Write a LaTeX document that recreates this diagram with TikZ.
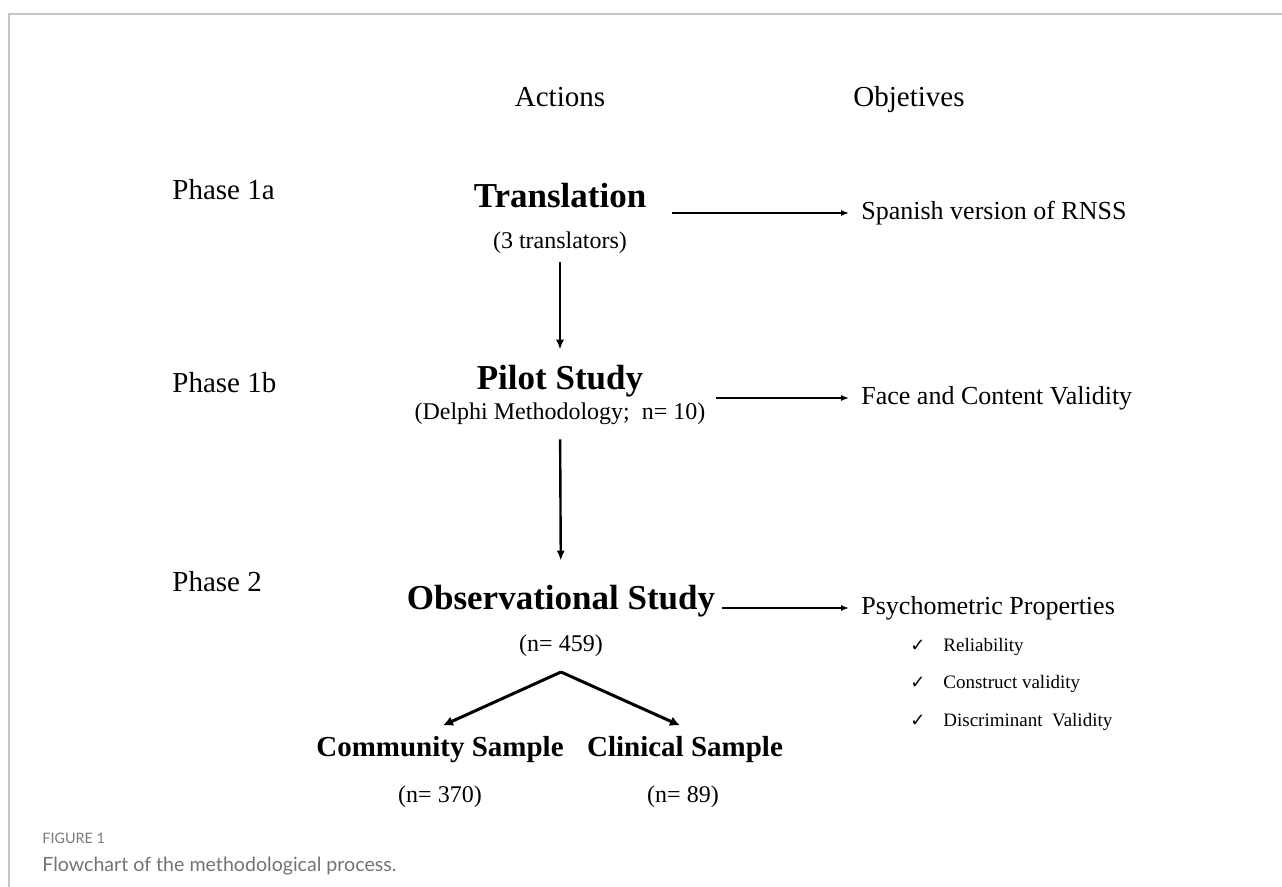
\documentclass[tikz,border=0pt]{standalone}
\usepackage{amssymb}
\usepackage{fontspec}
\setmainfont{Liberation Serif}
\newfontfamily\capfont{Lato}
\newfontfamily\symfont{DejaVu Sans}
\usetikzlibrary{arrows.meta}
\tikzset{head/.style = {font = \fontsize{14.5}{17}\selectfont, inner sep = 0, anchor = base}}
\tikzset{phase/.style = {font = \fontsize{14.5}{17}\selectfont, inner sep = 0, anchor = west}}
\tikzset{title/.style = {font = \fontsize{17.5}{20}\selectfont\bfseries, inner sep = 0}}
\tikzset{sub/.style = {font = \fontsize{12}{14}\selectfont, inner sep = 0}}
\tikzset{sample/.style = {font = \fontsize{14.5}{17}\selectfont\bfseries, inner sep = 0}}
\tikzset{goal/.style = {font = \fontsize{13}{15}\selectfont, inner sep = 0, anchor = west}}
\tikzset{item/.style = {font = \fontsize{9.5}{11}\selectfont, inner sep = 0, anchor = base west}}
\tikzset{vline/.style = {-{Latex[length = 5pt, width = 4pt]}, line width = 1.2pt}}
\tikzset{hline/.style = {-{Latex[length = 4pt, width = 3pt]}, line width = 0.7pt,
                         shorten > = 6pt}}
\tikzset{fork/.style = {-{Latex[length = 5pt, width = 5pt]}, line width = 1.5pt}}

\begin{document}
\begin{tikzpicture}[x = 0.5pt, y = -0.5pt]
  \useasboundingbox (0, 0) rectangle (1282, 887);
  \draw [gray!45, line width = 0.8pt] (9, 887) -- (9, 14) -- (1282, 14);

  % column heads
  \node (act) at (560, 107) [head] {Actions};
  \node (obj) at (909, 107) [head] {Objetives};

  % phases
  \node (ph1a) at (172, 190) [phase] {Phase 1a};
  \node (ph1b) at (172, 383) [phase] {Phase 1b};
  \node (ph2) at (172, 582) [phase] {Phase 2};

  % actions
  \node (trans) at (560, 196) [title] {Translation};
  \node (trsub) at (560, 243) [sub] {(3 translators)};
  \node (pilot) at (560, 381) [title] {Pilot Study};
  \node (pisub) at (560, 414) [sub] {(Delphi Methodology;\ \ n= 10)};
  \node (obs) at (561, 601) [title] {Observational Study};
  \node (obsub) at (561, 646) [sub] {(n= 459)};
  \node (comm) at (440, 750) [sample] {Community Sample};
  \node (clin) at (685, 750) [sample] {Clinical Sample};
  \node (cosub) at (440, 797) [sub] {(n= 370)};
  \node (clsub) at (683, 797) [sub] {(n= 89)};

  \draw [vline, shorten < = 4pt, shorten > = 7.5pt] (trsub) -- (pilot);
  \draw [vline, shorten < = 7pt, shorten > = 12pt] (pisub) -- (obs);
  \coordinate (split) at (561, 672);
  \draw [fork] (split) -- ([xshift = 1.5pt, yshift = 5.5pt]comm.north);
  \draw [fork] (split) -- ([xshift = -2.5pt, yshift = 5.5pt]clin.north);

  % objectives
  \node (spanish) at (861, 213) [goal] {Spanish version of RNSS};
  \node (face) at (861, 398) [goal] {Face and Content Validity};
  \node (psy) at (861, 608) [goal] {Psychometric Properties};
  \coordinate (out1) at (672, 213);
  \coordinate (out2) at (716, 398);
  \coordinate (out3) at (722, 608);
  \draw [hline] (out1) -- (spanish);
  \draw [hline] (out2) -- (face);
  \draw [hline] (out3) -- (psy);

  \foreach \prop [count = \i] in {Reliability, Construct validity, Discriminant\ \ Validity} {
    \node (tick\i) at (910, 614 + 37.5 * \i) [item, font = \symfont\fontsize{9}{11}\selectfont] {✓};
    \node (prop\i) at (943, 614 + 37.5 * \i) [item] {\prop};
  }

  % caption
  \node (fig) at (42, 838) [inner sep = 0, anchor = west, text = gray!95!black,
    font = \capfont\fontsize{7.2}{9}\selectfont] {FIGURE 1};
  \node (cap) at (42, 866) [inner sep = 0, anchor = west, text = gray!90!black,
    font = \capfont\fontsize{9.8}{12}\selectfont] {Flowchart of the methodological process.};
\end{tikzpicture}
\end{document}
